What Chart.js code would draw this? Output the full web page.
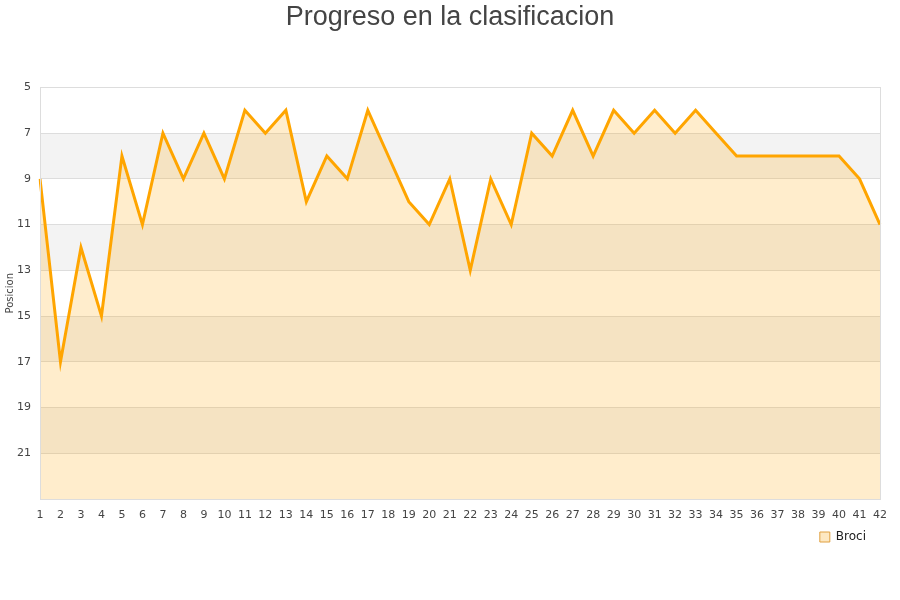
<!DOCTYPE html>
<html>
<head>
<meta charset="utf-8">
<script src="https://cdn.jsdelivr.net/npm/chart.js@4/dist/chart.umd.min.js"></script>
<style>
html,body{margin:0;padding:0;background:#fff;}
#wrap{width:900px;height:600px;}
</style>
</head>
<body>
<div id="wrap"><canvas id="c" width="900" height="600"></canvas></div>
<script>
const jornadas = ['1','2','3','4','5','6','7','8','9','10','11','12','13','14','15','16','17','18','19','20','21','22','23','24','25','26','27','28','29','30','31','32','33','34','35','36','37','38','39','40','41','42'];
const posicionBroci = [9,17,12,15,8,11,7,9,7,9,6,7,6,10,8,9,6,8,10,11,9,13,9,11,7,8,6,8,6,7,6,7,6,7,8,8,8,8,8,8,9,11];
const yMin = 5, yMax = 23, yStep = 2;
const grayBands = [[7,9],[11,13],[15,17],[19,21]];

const bandsPlugin = {
  id: 'bands',
  afterLayout(chart) {
    if (chart.titleBlock) { chart.titleBlock.left = 0; chart.titleBlock.right = chart.width; }
    if (chart.legend) { chart.legend.right = chart.legend.right - 8; }
  },
  beforeDraw(chart) {
    const {ctx, chartArea, scales} = chart;
    const y = scales.y;
    ctx.save();
    ctx.fillStyle = '#ffffff';
    ctx.fillRect(chartArea.left, chartArea.top, chartArea.right - chartArea.left, chartArea.bottom - chartArea.top);
    ctx.fillStyle = '#f3f3f3';
    grayBands.forEach(([a, b]) => {
      const p1 = y.getPixelForValue(a), p2 = y.getPixelForValue(b);
      ctx.fillRect(chartArea.left, Math.min(p1, p2), chartArea.right - chartArea.left, Math.abs(p2 - p1));
    });
    ctx.restore();
  },
  afterDatasetsDraw(chart) {
    const {ctx, chartArea} = chart;
    ctx.save();
    ctx.strokeStyle = '#dddddd';
    ctx.lineWidth = 1;
    ctx.strokeRect(Math.round(chartArea.left) + 0.5, Math.round(chartArea.top) + 0.5,
      Math.round(chartArea.right - chartArea.left), Math.round(chartArea.bottom - chartArea.top));
    ctx.restore();
  }
};

new Chart(document.getElementById('c'), {
  type: 'line',
  data: {
    labels: jornadas,
    datasets: [{
      label: 'Broci',
      data: posicionBroci,
      borderColor: '#FFA500',
      backgroundColor: 'rgba(255,165,0,0.2)',
      borderWidth: 3,
      pointRadius: 0,
      pointHoverRadius: 0,
      tension: 0,
      fill: {value: yMax}
    }]
  },
  options: {
    responsive: false,
    animation: false,
    layout: {padding: {left: 0, right: 20, top: 0, bottom: 47}},
    plugins: {
      title: {
        display: true,
        text: 'Progreso en la clasificacion',
        color: '#444444',
        font: {family: 'Liberation Sans, Arial, sans-serif', size: 27, weight: 'normal', lineHeight: 1.2},
        padding: {top: 1, bottom: 54}
      },
      legend: {
        position: 'bottom',
        align: 'end',
        labels: {
          boxWidth: 10,
          boxHeight: 10,
          color: '#222222',
          font: {family: 'DejaVu Sans, sans-serif', size: 12},
          padding: 6,
          generateLabels(chart) {
            return Chart.defaults.plugins.legend.labels.generateLabels(chart).map(l => {
              l.lineWidth = 1;
              l.fillStyle = '#fde8c2';
              l.strokeStyle = '#e0a040';
              return l;
            });
          }
        }
      },
      tooltip: {enabled: false}
    },
    scales: {
      x: {
        grid: {display: false, drawTicks: false},
        border: {display: false},
        ticks: {
          color: '#444444',
          font: {family: 'DejaVu Sans, sans-serif', size: 11},
          autoSkip: false,
          maxRotation: 0,
          padding: 10
        },
        afterFit(scale) { scale.height = 26; }
      },
      y: {
        reverse: true,
        min: yMin,
        max: yMax,
        grid: {color: '#dddddd', drawTicks: false},
        border: {display: false},
        ticks: {
          stepSize: yStep,
          color: '#444444',
          font: {family: 'DejaVu Sans, sans-serif', size: 11},
          padding: 9,
          callback: (v) => (v === yMax ? '' : v)
        },
        title: {
          display: true,
          text: 'Posicion',
          color: '#444444',
          font: {family: 'DejaVu Sans, sans-serif', size: 10},
          padding: {top: 4, bottom: 4}
        },
        afterFit(scale) { scale.width = 40; }
      }
    }
  },
  plugins: [bandsPlugin]
});
</script>
</body>
</html>
